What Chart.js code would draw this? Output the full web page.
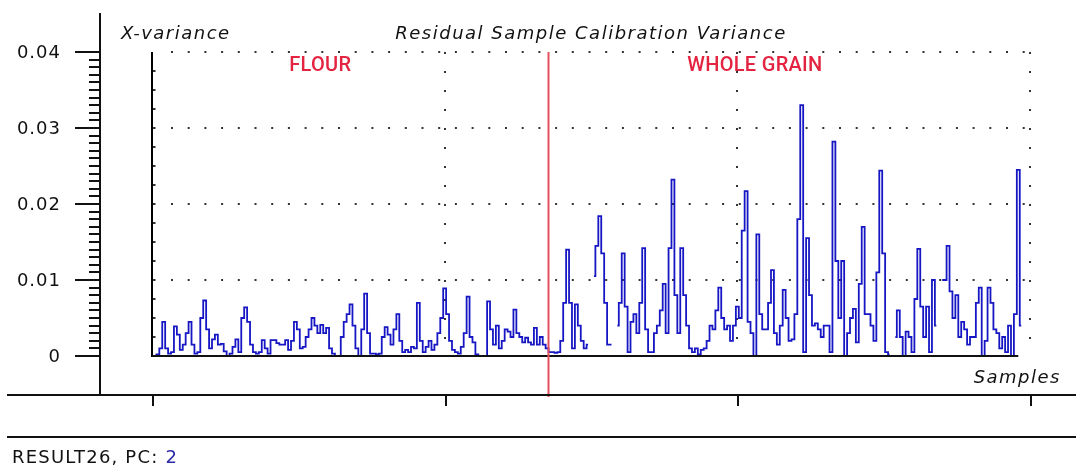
<!DOCTYPE html>
<html>
<head>
<meta charset="utf-8">
<title>Residual Sample Calibration Variance</title>
<script src="https://cdn.jsdelivr.net/npm/chart.js@4.4.1/dist/chart.umd.min.js"></script>
<style>
    html, body { margin: 0; padding: 0; background: #fff; }
    #cadre { position: relative; width: 1076px; height: 466px; }
</style>
</head>
<body>
<div id="cadre"><canvas id="chartVariance"></canvas></div>
<script>
// ====================================================================
// Residual Sample Calibration Variance - RESULT26, PC 2
// ====================================================================

// X-variance par echantillon (index 0..135) - zone FLOUR
const flourVariance = [
    0, 0, 0.0002, 0.001, 0.0045, 0.001, 0.0003, 0.0005, 0.0039, 0.0028,
    0.0008, 0.0015, 0.003, 0.0045, 0.0015, 0.0003, 0.0005, 0.005, 0.0073, 0.0035,
    0.001, 0.0022, 0.0028, 0.0015, 0.0016, 0.0006, 0, 0.0003, 0.0012, 0.0022,
    0.0005, 0.005, 0.0064, 0.0045, 0.0015, 0.0005, 0.0003, 0.0005, 0.0021, 0.001,
    0.0003, 0.0021, 0.0021, 0.0017, 0.0015, 0.0015, 0.0021, 0.0008, 0.002, 0.0045,
    0.0035, 0.001, 0.0012, 0.0025, 0.0035, 0.005, 0.004, 0.003, 0.0041, 0.003,
    0.0037, 0.001, 0.0003, 0, 0, 0.0025, 0.0045, 0.0055, 0.0068, 0.004,
    0.001, 0, 0.0035, 0.0082, 0.003, 0.0003, 0.0003, 0.0002, 0.0003, 0.0025,
    0.0038, 0.0028, 0.0015, 0.0035, 0.0055, 0.002, 0.0005, 0.0008, 0.0005, 0.0012,
    0.001, 0.007, 0.002, 0.0005, 0.0012, 0.002, 0.0008, 0.0015, 0.003, 0.005,
    0.0089, 0.0055, 0.002, 0.0008, 0.0005, 0.0003, 0.0012, 0.003, 0.0078, 0.0025,
    0.0018, 0.0002, 0, 0, 0, 0.0072, 0.0035, 0.0015, 0.004, 0.001,
    0.002, 0.0035, 0.0032, 0.0025, 0.0061, 0.003, 0.0025, 0.0018, 0.0024, 0.0018,
    0.0015, 0.0037, 0.0015, 0.0025, 0.0015, 0.001
];

// X-variance par echantillon (index 136..297) - zone WHOLE GRAIN (null = trou)
const wholeGrainVariance = [
    0.0005, 0.0005, 0.0004, 0.0005,
    0.002, 0.007, 0.014, 0.007, 0.001, 0.0068, 0.004, 0.002, 0.001, 0.0015,
    null, 0.0105, 0.0145, 0.0184, 0.0135, 0.007, 0.0015, 0.0015, null, 0.004,
    0.007, 0.0135, 0.0065, 0.0005, 0.0045, 0.0055, 0.003, 0.007, 0.0142, 0.0035,
    0.0005, 0.0005, 0.003, 0.004, 0.006, 0.0095, 0.003, 0.0142, 0.0232, 0.008,
    0.003, 0.0142, 0.008, 0.004, 0.001, 0.0005, 0.001, 0.0002, 0.0008, 0.001,
    0.002, 0.004, 0.0035, 0.006, 0.009, 0.005, 0.0035, 0.004, 0.002, 0.004,
    0.0065, 0.005, 0.0165, 0.0217, 0.0045, 0.003, 0, 0.016, 0.0055, 0.0035,
    0.0035, 0.007, 0.0113, 0.003, 0.0015, 0.004, 0.0087, 0.005, 0.002, 0.0022,
    0.0055, 0.018, 0.033, 0.0005, 0.0155, 0.008, 0.004, 0.0043, 0.0035, 0.0025,
    0.004, 0.004, 0.0005, 0.0282, 0.0125, 0.005, 0.0125, 0, 0.003, 0.005,
    0.0062, 0.0018, 0.0095, 0.017, 0.0055, 0.0055, 0.004, 0.002, 0.011, 0.0244,
    0.0135, 0.0005, 0.0002, null, 0.0025, 0.006, 0.0025, 0, 0.0032, 0.0025,
    0.0005, 0.0075, 0.0141, 0.0065, 0.0025, 0.0065, 0.0005, 0.01, 0.004, null,
    0.01, 0.01, 0.0145, 0.0085, 0.005, 0.008, 0.0025, 0.0045, 0.0035, 0.0015,
    0.0025, 0.0025, 0.007, 0.009, 0, 0.002, 0.009, 0.007, 0.0035, 0.003,
    0.001, 0.0025, 0.0005, 0.004, 0, 0.0055, 0.0245, 0.004
];

// Graduations
const yTicks = [0, 0.01, 0.02, 0.03, 0.04];
const yTickLabels = ['0', '0.01', '0.02', '0.03', '0.04'];
const yMinorStep = 0.001;
const xTicks = [0, 100, 200, 300];

// Textes
const regionLabels = ['FLOUR', 'WHOLE GRAIN'];
const chartTitle = 'Residual Sample Calibration Variance';
const yAxisTitle = 'X-variance';
const xAxisTitle = 'Samples';
const footerLabel = 'RESULT26, PC: ';
const footerValue = '2';

// Points (index echantillon -> variance)
const allVariance = [...flourVariance, ...wholeGrainVariance];
const points = allVariance.map((v, i) => ({ x: i, y: v }));
const separation = flourVariance.length - 0.5;

// Positions (en index echantillon) des libelles de zone
const baseLabelPos = [57.5, 206];

/**
 * Plugin : axes, grille pointillee, separation et textes
 */
const habillage = {
    id: 'habillage',
    beforeDatasetsDraw(chart) {
        const { ctx, chartArea: a, scales: { x, y } } = chart;
        ctx.save();
        ctx.strokeStyle = '#333';
        ctx.lineWidth = 2;

        // Grille horizontale pointillee
        ctx.setLineDash([2, 14.7]);
        yTicks.slice(1).forEach(v => {
            const py = Math.round(y.getPixelForValue(v));
            ctx.beginPath();
            ctx.moveTo(a.left + 19, py);
            ctx.lineTo(a.right + 1, py);
            ctx.stroke();
        });

        // Grille verticale pointillee
        ctx.setLineDash([2, 17]);
        xTicks.slice(1).forEach(v => {
            const px = Math.round(x.getPixelForValue(v));
            ctx.beginPath();
            ctx.moveTo(px, a.top);
            ctx.lineTo(px, a.bottom);
            ctx.stroke();
        });

        // Petits reperes sur l'axe interne
        ctx.setLineDash([2, 17]);
        ctx.lineWidth = 3;
        ctx.beginPath();
        ctx.moveTo(a.left + 2, a.top + 18);
        ctx.lineTo(a.left + 2, a.bottom);
        ctx.stroke();

        // Axe interne gauche
        ctx.setLineDash([]);
        ctx.strokeStyle = '#000';
        ctx.lineWidth = 2;
        ctx.beginPath();
        ctx.moveTo(a.left, a.top);
        ctx.lineTo(a.left, a.bottom + 1);
        ctx.stroke();
        ctx.restore();
    },
    afterDatasetsDraw(chart) {
        const { ctx, chartArea: a, scales: { x, y } } = chart;
        ctx.save();

        // Ligne de base
        ctx.strokeStyle = '#111';
        ctx.lineWidth = 2;
        const y0 = Math.round(y.getPixelForValue(0));
        ctx.beginPath();
        ctx.moveTo(a.left, y0);
        ctx.lineTo(x.getPixelForValue(allVariance.length - 2), y0);
        ctx.stroke();

        // Separation FLOUR / WHOLE GRAIN
        const sx = Math.round(x.getPixelForValue(separation)) - 0.5;
        ctx.strokeStyle = '#e4505c';
        ctx.lineWidth = 2;
        ctx.beginPath();
        ctx.moveTo(sx, a.top);
        ctx.lineTo(sx, 397);
        ctx.stroke();

        // Libelles des zones
        ctx.fillStyle = '#e3233f';
        ctx.font = '500 20px Roboto';
        ctx.letterSpacing = '0.3px';
        ctx.textAlign = 'center';
        ctx.textBaseline = 'alphabetic';
        ctx.fillText(regionLabels[0], x.getPixelForValue(baseLabelPos[0]), 71);
        ctx.fillText(regionLabels[1], x.getPixelForValue(baseLabelPos[1]), 71);
        ctx.restore();
    },
    afterDraw(chart) {
        const { ctx, chartArea: a, scales: { x, y } } = chart;
        ctx.save();
        ctx.strokeStyle = '#111';
        ctx.lineWidth = 2;

        // Axe externe Y
        ctx.beginPath();
        ctx.moveTo(100, 13);
        ctx.lineTo(100, 396);
        ctx.stroke();

        // Graduations majeures et mineures
        const nMin = Math.round(yTicks[yTicks.length - 1] / yMinorStep);
        for (let k = 0; k <= nMin; k++) {
            const v = k * yMinorStep;
            const py = Math.round(y.getPixelForValue(v));
            const major = k % 10 === 0;
            ctx.beginPath();
            ctx.moveTo(major ? 75 : 89, py);
            ctx.lineTo(100, py);
            ctx.stroke();
        }

        // Axe externe X et second trait
        ctx.beginPath();
        ctx.moveTo(7, 395);
        ctx.lineTo(1076, 395);
        ctx.moveTo(7, 437);
        ctx.lineTo(1076, 437);
        ctx.stroke();
        xTicks.forEach(v => {
            const px = Math.round(x.getPixelForValue(v)) + 1;
            ctx.beginPath();
            ctx.moveTo(px, 395);
            ctx.lineTo(px, 406);
            ctx.stroke();
        });

        // Libelles Y
        ctx.fillStyle = '#111';
        ctx.font = '18px "DejaVu Sans"';
        ctx.letterSpacing = '1px';
        ctx.textAlign = 'right';
        ctx.textBaseline = 'middle';
        yTicks.forEach((v, i) => {
            ctx.fillText(yTickLabels[i], 61, y.getPixelForValue(v) + 1);
        });

        // Titres en italique
        ctx.font = 'italic 18px "DejaVu Sans"';
        ctx.letterSpacing = '1.5px';
        ctx.textBaseline = 'alphabetic';
        ctx.textAlign = 'left';
        ctx.fillText(yAxisTitle, 121, 39);
        ctx.textAlign = 'center';
        ctx.fillText(chartTitle, (a.left + a.right) / 2, 39);
        ctx.textAlign = 'right';
        ctx.fillText(xAxisTitle, 1061, 383);

        // Pied
        ctx.font = '18px "DejaVu Sans"';
        ctx.letterSpacing = '1.2px';
        ctx.textAlign = 'left';
        ctx.fillText(footerLabel, 12, 463);
        const w = ctx.measureText(footerLabel).width;
        ctx.fillStyle = '#2b2ba6';
        ctx.fillText(footerValue, 12 + w, 463);
        ctx.restore();
    }
};

const canvas = document.getElementById('chartVariance');
const chartVariance = new Chart(canvas.getContext('2d'), {
    type: 'line',
    data: {
        datasets: [{
            label: yAxisTitle,
            data: points,
            borderColor: '#1616c4',
            borderWidth: 1.8,
            pointRadius: 0,
            stepped: 'middle',
            spanGaps: false,
            fill: false,
            clip: 4
        }]
    },
    options: {
        responsive: true,
        maintainAspectRatio: false,
        animation: false,
        layout: { padding: { left: 152, right: 46, top: 52, bottom: 110 } },
        plugins: {
            legend: { display: false },
            tooltip: { enabled: false }
        },
        scales: {
            x: { type: 'linear', min: 0, max: 300, display: false },
            y: { type: 'linear', min: 0, max: 0.04, display: false }
        }
    },
    plugins: [habillage]
});
</script>
</body>
</html>
